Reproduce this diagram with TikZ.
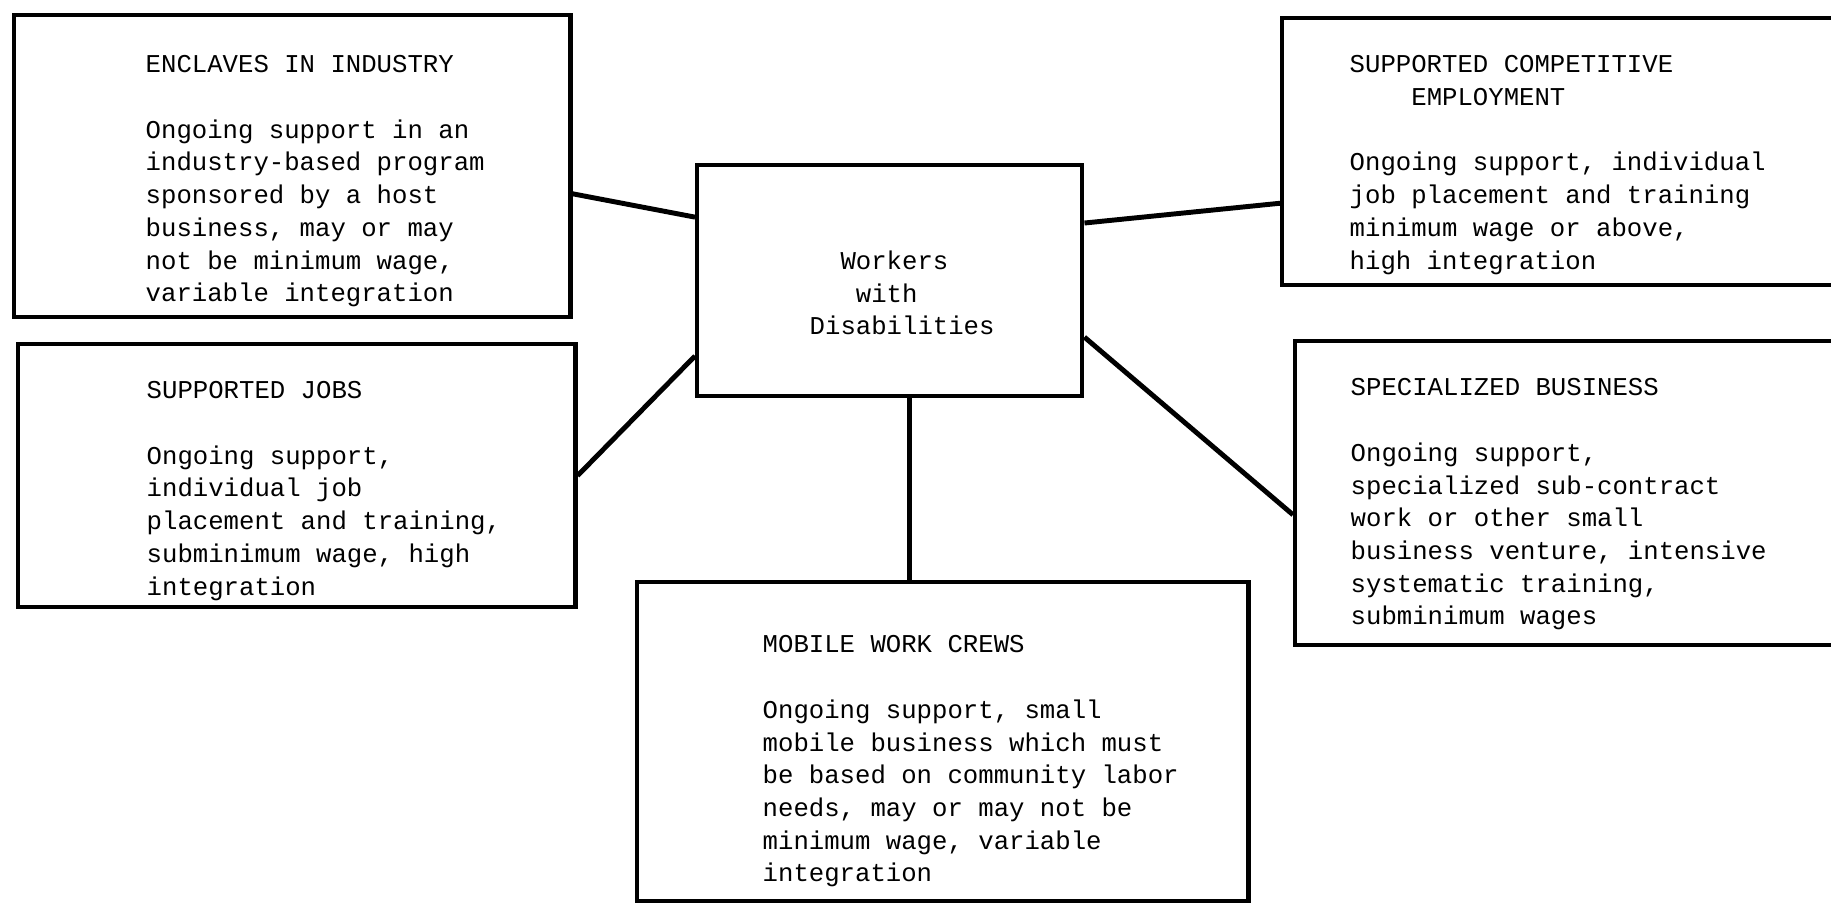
\documentclass[tikz,border=0pt]{standalone}
\usepackage{fontspec}
\usepackage{tikz}
\usetikzlibrary{positioning,calc}
\newfontfamily\typew{Liberation Mono}

\tikzset{
  box/.style={rectangle, draw, line width=1.2pt, inner sep=0pt, anchor=north west},
  txt/.style={inner sep=0pt, anchor=north west, align=left, font={\typew\fontsize{7.3}{9.3}\selectfont}},
  link/.style={line width=1.4pt},
}

\begin{document}
\begin{tikzpicture}[x=0.01cm, y=-0.01cm]
\useasboundingbox (0,0) rectangle (1831,903);
\clip (0,0) rectangle (1831,903);

% centre box
\node[box, minimum width=3.85cm, minimum height=2.31cm] (work) at (695,163) {};
\node[txt] (work-txt) at (809,250) {\phantom{XX}Workers\\\phantom{XXX}with\\Disabilities};

% the five outer boxes
\node[box, minimum width=5.56cm, minimum height=3.02cm] (encl) at (12,13) {};
\node[box, minimum width=5.57cm, minimum height=2.63cm] (jobs) at (16,342) {};
\node[box, minimum width=5.70cm, minimum height=2.67cm] (comp) at (1280,16) {};
\node[box, minimum width=5.60cm, minimum height=3.04cm] (spec) at (1293,339) {};
\node[box, minimum width=6.11cm, minimum height=3.19cm] (mob) at (635,580) {};

\node[txt] (encl-txt) at (145,55) {ENCLAVES IN INDUSTRY\\[9.3pt]
Ongoing support in an\\industry-based program\\sponsored by a host\\business, may or may\\not be minimum wage,\\variable integration};
\node[txt] (jobs-txt) at (146,381) {SUPPORTED JOBS\\[9.3pt]
Ongoing support,\\individual job\\placement and training,\\subminimum wage, high\\integration};
\node[txt] (comp-txt) at (1349,55) {SUPPORTED COMPETITIVE\\\phantom{XXXX}EMPLOYMENT\\[9.3pt]
Ongoing support, individual\\job placement and training\\minimum wage or above,\\high integration};
\node[txt] (spec-txt) at (1350,378) {SPECIALIZED BUSINESS\\[9.3pt]
Ongoing support,\\specialized sub-contract\\work or other small\\business venture, intensive\\systematic training,\\subminimum wages};
\node[txt] (mob-txt) at (762,635) {MOBILE WORK CREWS\\[9.3pt]
Ongoing support, small\\mobile business which must\\be based on community labor\\needs, may or may not be\\minimum wage, variable\\integration};

% connectors
\draw[link] ($(encl.north east)!0.59!(encl.south east)$) -- ($(work.north west)!0.23!(work.south west)$);
\draw[link] ($(jobs.north east)!0.5!(jobs.south east)$) -- ($(work.north west)!0.82!(work.south west)$);
\draw[link] ($(work.north east)!0.255!(work.south east)$) -- ($(comp.north west)!0.69!(comp.south west)$);
\draw[link] ($(work.north east)!0.74!(work.south east)$) -- ($(spec.north west)!0.57!(spec.south west)$);
\coordinate (down) at ($(work.south west)!0.55!(work.south east)$);
\draw[link] (down) -- (down |- mob.north);
\end{tikzpicture}
\end{document}
